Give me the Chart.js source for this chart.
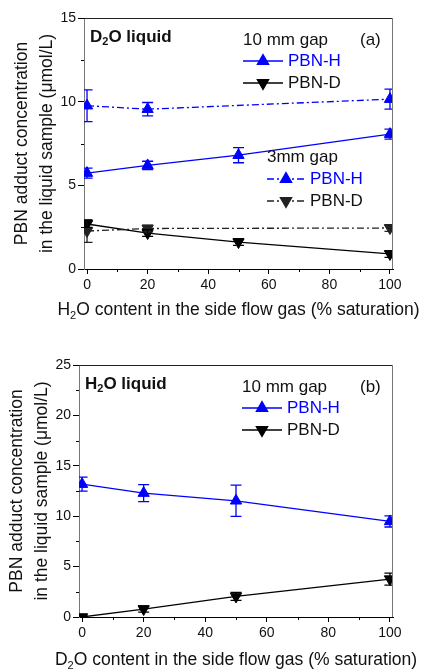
<!DOCTYPE html>
<html>
<head>
<meta charset="utf-8">
<script src="https://cdn.jsdelivr.net/npm/chart.js@4.4.1/dist/chart.umd.min.js"></script>
<style>
  html, body { margin: 0; padding: 0; background: #fff; }
  .wrap { position: relative; width: 421px; height: 670px; }
  .panel { position: absolute; left: 0; width: 421px; height: 335px; }
</style>
</head>
<body>
<div class="wrap">
  <div class="panel" style="top:0"><canvas id="chart-a" width="421" height="335"></canvas></div>
  <div class="panel" style="top:335px"><canvas id="chart-b" width="421" height="335"></canvas></div>
</div>
<script>
// tick values
const xTicks = [0, 20, 40, 60, 80, 100];
const xMinor = [10, 30, 50, 70, 90];
const yTicksA = [0, 5, 10, 15];
const yMinorA = [2.5, 7.5, 12.5];
const yTicksB = [0, 5, 10, 15, 20, 25];
const yMinorB = [2.5, 7.5, 12.5, 17.5, 22.5];

// (a) D2O liquid, H2O in side flow gas
const satA10 = [0, 20, 50, 100];
const a10H = [5.73, 6.19, 6.80, 8.06];
const a10HErr = [0.30, 0.25, 0.45, 0.30];
const a10D = [2.69, 2.15, 1.61, 0.90];
const a10DErr = [0.20, 0.20, 0.20, 0.20];
const satA3 = [0, 20, 100];
const a3H = [9.76, 9.55, 10.15];
const a3HErr = [0.95, 0.40, 0.60];
const a3D = [2.27, 2.42, 2.45];
const a3DErr = [0.68, 0.20, 0.20];

// (b) H2O liquid, D2O in side flow gas
const satB = [0, 20, 50, 100];
const bH = [13.18, 12.29, 11.53, 9.48];
const bHErr = [0.70, 0.85, 1.55, 0.55];
const bD = [0.00, 0.79, 2.04, 3.76];
const bDErr = [0.10, 0.30, 0.40, 0.60];

const FONT = '"Liberation Sans", Arial, sans-serif';
const BLUE = '#0000ff';
const BLACK = '#000000';
const DASHDOT = [7, 3, 2, 3];

function series(xs, ys, errs, color, down, dashed) {
  return {
    data: xs.map((x, i) => ({ x, y: ys[i] })),
    errors: errs,
    borderColor: color,
    backgroundColor: color,
    borderWidth: 1.3,
    borderDash: dashed ? DASHDOT : [],
    pointStyle: 'triangle',
    pointRotation: down ? 180 : 0,
    pointRadius: 6.5,
    pointHoverRadius: 6.5,
    pointBorderWidth: 1,
    pointBackgroundColor: color,
    pointBorderColor: color,
    tension: 0,
    fill: false
  };
}

// text with subscripts: parts = [[text, isSub], ...]
function drawRich(ctx, parts, x, y, size, weight, align) {
  const big = `${weight} ${size}px ${FONT}`;
  const small = `${weight} ${Math.round(size * 0.65)}px ${FONT}`;
  let total = 0;
  parts.forEach(([t, sub]) => { ctx.font = sub ? small : big; total += ctx.measureText(t).width; });
  let cx = align === 'center' ? x - total / 2 : x;
  ctx.textAlign = 'left';
  ctx.textBaseline = 'middle';
  parts.forEach(([t, sub]) => {
    ctx.font = sub ? small : big;
    ctx.fillText(t, cx, sub ? y + size * 0.32 : y);
    cx += ctx.measureText(t).width;
  });
}

function legendRow(ctx, x0, x1, y, color, down, dashed, label) {
  ctx.save();
  ctx.strokeStyle = color;
  ctx.lineWidth = 1.3;
  ctx.setLineDash(dashed ? DASHDOT : []);
  ctx.beginPath(); ctx.moveTo(x0, y); ctx.lineTo(x1, y); ctx.stroke();
  ctx.setLineDash([]);
  ctx.fillStyle = color;
  Chart.helpers.drawPoint(ctx, { pointStyle: 'triangle', rotation: down ? 180 : 0, radius: 6.5, borderWidth: 1 }, (x0 + x1) / 2, y);
  ctx.fillStyle = color === BLUE ? BLUE : '#111';
  ctx.font = `17px ${FONT}`;
  ctx.textAlign = 'left';
  ctx.textBaseline = 'middle';
  ctx.fillText(label, x1 + 5, y);
  ctx.restore();
}

function rotatedText(ctx, text, x, y, size) {
  ctx.save();
  ctx.translate(x, y);
  ctx.rotate(-Math.PI / 2);
  ctx.font = `${size}px ${FONT}`;
  ctx.textAlign = 'center';
  ctx.textBaseline = 'middle';
  ctx.fillText(text, 0, 0);
  ctx.restore();
}

const errorBars = {
  id: 'errorBars',
  afterDatasetsDraw(chart) {
    const { ctx, chartArea: a, scales: { x, y } } = chart;
    ctx.save();
    ctx.beginPath(); ctx.rect(a.left, a.top, a.right - a.left, a.bottom - a.top); ctx.clip();
    chart.data.datasets.forEach(ds => {
      ctx.strokeStyle = ds.borderColor;
      ctx.lineWidth = 1.3;
      ctx.setLineDash([]);
      ds.data.forEach((p, i) => {
        const e = ds.errors[i];
        if (!e) return;
        const px = x.getPixelForValue(p.x);
        const top = y.getPixelForValue(p.y + e);
        const bot = y.getPixelForValue(p.y - e);
        ctx.beginPath();
        ctx.moveTo(px, top); ctx.lineTo(px, bot);
        ctx.moveTo(px - 5.5, top); ctx.lineTo(px + 5.5, top);
        ctx.moveTo(px - 5.5, bot); ctx.lineTo(px + 5.5, bot);
        ctx.stroke();
      });
    });
    ctx.restore();
  }
};

const decor = {
  id: 'decor',
  afterDraw(chart, args, opts) {
    const { ctx, chartArea: a, scales: { x, y } } = chart;
    ctx.save();
    // frame top / right
    ctx.lineWidth = 1;
    ctx.strokeStyle = '#222';
    ctx.beginPath(); ctx.moveTo(a.left, a.top + 0.5); ctx.lineTo(a.right, a.top + 0.5); ctx.stroke();
    ctx.strokeStyle = '#777';
    ctx.beginPath(); ctx.moveTo(a.right - 0.5, a.top); ctx.lineTo(a.right - 0.5, a.bottom); ctx.stroke();
    // minor ticks
    ctx.strokeStyle = '#000';
    xMinor.forEach(v => {
      const px = Math.round(x.getPixelForValue(v)) + 0.5;
      ctx.beginPath(); ctx.moveTo(px, a.bottom); ctx.lineTo(px, a.bottom + 3); ctx.stroke();
    });
    opts.yMinor.forEach(v => {
      const py = Math.round(y.getPixelForValue(v)) + 0.5;
      ctx.beginPath(); ctx.moveTo(a.left, py); ctx.lineTo(a.left - 3, py); ctx.stroke();
    });
    // axis titles
    ctx.fillStyle = '#111';
    drawRich(ctx, opts.xTitle, (a.left + a.right) / 2, opts.xTitleY, 17.5, 'normal', 'center');
    const cy = (a.top + a.bottom) / 2;
    rotatedText(ctx, 'PBN adduct concentration', a.left - 62, cy, 17.5);
    rotatedText(ctx, 'in the liquid sample (\u03bcmol/L)', a.left - 37, cy, 17.5);
    // panel labels
    drawRich(ctx, opts.liquid, a.left + 6, opts.headY - 3, 17, 'bold', 'left');
    ctx.font = `17px ${FONT}`;
    ctx.textAlign = 'left';
    ctx.textBaseline = 'middle';
    ctx.fillText('10 mm gap', opts.legX, opts.headY);
    ctx.fillText(opts.tag, 360, opts.headY);
    legendRow(ctx, opts.legX, opts.legX + 40, opts.headY + 21, BLUE, false, false, 'PBN-H');
    legendRow(ctx, opts.legX, opts.legX + 40, opts.headY + 43, BLACK, true, false, 'PBN-D');
    if (opts.gap3Y) {
      ctx.fillStyle = '#111';
      ctx.font = `17px ${FONT}`;
      ctx.textAlign = 'left';
      ctx.textBaseline = 'middle';
      ctx.fillText('3mm gap', 267, opts.gap3Y);
      legendRow(ctx, 267, 305, opts.gap3Y + 22, BLUE, false, true, 'PBN-H');
      legendRow(ctx, 267, 305, opts.gap3Y + 44, '#222', true, true, 'PBN-D');
    }
    ctx.restore();
  }
};

function makeChart(id, datasets, yMax, yTicks, yWidth, xHeight, top, decorOpts) {
  return new Chart(document.getElementById(id), {
    type: 'line',
    data: { datasets },
    plugins: [errorBars, decor],
    options: {
      responsive: false,
      animation: false,
      layout: { padding: { left: 0, right: 28, top, bottom: 0 } },
      plugins: { legend: { display: false }, tooltip: { enabled: false }, decor: decorOpts },
      scales: {
        x: {
          type: 'linear', min: -1, max: 101,
          afterBuildTicks: s => { s.ticks = xTicks.map(v => ({ value: v })); },
          afterFit: s => { s.height = xHeight; },
          border: { color: '#000', width: 1 },
          grid: { drawOnChartArea: false, tickLength: 5, tickColor: '#000' },
          ticks: { color: '#111', font: { family: FONT, size: 14 }, padding: 3, maxRotation: 0 }
        },
        y: {
          min: 0, max: yMax,
          afterBuildTicks: s => { s.ticks = yTicks.map(v => ({ value: v })); },
          afterFit: s => { s.width = yWidth; },
          border: { color: '#777', width: 1 },
          grid: { drawOnChartArea: false, tickLength: 6, tickColor: '#000' },
          ticks: { color: '#111', font: { family: FONT, size: 14 }, padding: 2 }
        }
      }
    }
  });
}

makeChart('chart-a', [
  series(satA3, a3H, a3HErr, BLUE, false, true),
  series(satA3, a3D, a3DErr, '#222', true, true),
  series(satA10, a10H, a10HErr, BLUE, false, false),
  series(satA10, a10D, a10DErr, BLACK, true, false)
], 15, yTicksA, 84, 66, 18, {
  yMinor: yMinorA,
  xTitle: [['H', false], ['2', true], ['O content in the side flow gas (% saturation)', false]],
  xTitleY: 310,
  liquid: [['D', false], ['2', true], ['O liquid', false]],
  headY: 40, legX: 243, tag: '(a)', gap3Y: 157
});

makeChart('chart-b', [
  series(satB, bH, bHErr, BLUE, false, false),
  series(satB, bD, bDErr, BLACK, true, false)
], 25, yTicksB, 79, 53, 30, {
  yMinor: yMinorB,
  xTitle: [['D', false], ['2', true], ['O content in the side flow gas (% saturation)', false]],
  xTitleY: 325,
  liquid: [['H', false], ['2', true], ['O liquid', false]],
  headY: 52, legX: 242, tag: '(b)', gap3Y: 0
});
</script>
</body>
</html>
